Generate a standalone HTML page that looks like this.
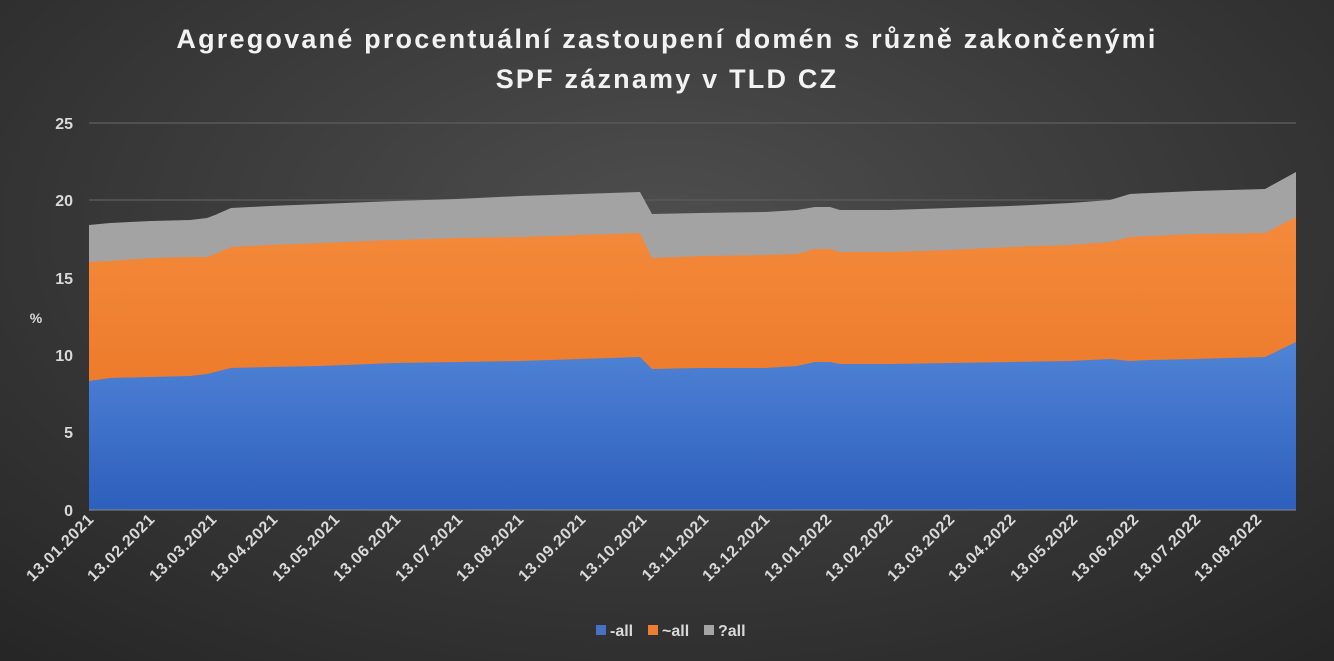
<!DOCTYPE html><html><head><meta charset="utf-8"><style>
body{margin:0;width:1334px;height:661px;overflow:hidden;background:radial-gradient(ellipse 75% 85% at 50% 35%,#4e4e4e 0%,#3a3a3a 50%,#262626 100%);font-family:"Liberation Sans",sans-serif}
</style></head><body>
<svg width="1334" height="661" xmlns="http://www.w3.org/2000/svg" style="position:absolute;left:0;top:0">
<defs>
<linearGradient id="b" x1="0" y1="0" x2="0" y2="1"><stop offset="0" stop-color="#5084d6"/><stop offset="1" stop-color="#2d5fbc"/></linearGradient>
<linearGradient id="o" x1="0" y1="0" x2="0" y2="1"><stop offset="0" stop-color="#f48a3c"/><stop offset="1" stop-color="#e8701f"/></linearGradient>
</defs>
<g font-weight="bold" fill="#f2f2f2" font-size="27" text-anchor="middle" letter-spacing="2.2">
<text x="667" y="48">Agregované procentuální zastoupení domén s různě zakončenými</text>
<text x="667" y="88">SPF záznamy v TLD CZ</text>
</g>
<g stroke="#595959" stroke-width="1.5"><line x1="89" y1="123" x2="1296" y2="123"/><line x1="89" y1="200" x2="1296" y2="200"/><line x1="89" y1="278" x2="1296" y2="278"/></g>
<g font-size="16" font-weight="bold" fill="#d9d9d9" text-anchor="end">
<text x="73" y="129">25</text><text x="73" y="206">20</text><text x="73" y="284">15</text><text x="73" y="361">10</text><text x="73" y="438">5</text><text x="73" y="516">0</text></g>
<text x="36" y="323" font-size="14" font-weight="bold" fill="#d9d9d9" text-anchor="middle">%</text>
<polygon fill="#a3a3a3" points="89,510 89,225 110,223 151,221 190,220 207,218 215,215 231,208 270,206 320,204 395,201 457,199 520,196 580,194 640,192 652,214 700,213 765,212 797,210 815,207 830,207 840,210 890,210 950,208 1010,206 1070,203 1110,200 1130,194 1150,193 1195,191 1265,189 1296,172 1296,510"/>
<polygon fill="url(#o)" points="89,510 89,262 110,261 151,258 190,257 207,257 215,254 231,247 270,245 320,243 395,240 457,238 520,237 580,235 640,233 652,258 700,256 765,255 797,254 815,249 830,249 840,252 890,252 950,250 1010,247 1070,245 1110,242 1130,237 1150,236 1195,234 1265,233 1296,217 1296,510"/>
<polygon fill="url(#b)" points="89,510 89,381 110,378 151,377 190,376 207,374 215,372 231,368 270,367 320,366 395,363 457,362 520,361 580,359 640,357 652,369 700,368 765,368 797,366 815,362 830,362 840,364 890,364 950,363 1010,362 1070,361 1110,359 1130,361 1150,360 1195,359 1265,357 1296,342 1296,510"/>
<line x1="89" y1="510" x2="1296" y2="510" stroke="#8a8a8a" stroke-width="1"/>
<g font-size="16" font-weight="bold" fill="#d9d9d9" text-anchor="end" letter-spacing="0.8">
<text transform="translate(95,520) rotate(-45)">13.01.2021</text>
<text transform="translate(156,520) rotate(-45)">13.02.2021</text>
<text transform="translate(218,520) rotate(-45)">13.03.2021</text>
<text transform="translate(279,520) rotate(-45)">13.04.2021</text>
<text transform="translate(341,520) rotate(-45)">13.05.2021</text>
<text transform="translate(402,520) rotate(-45)">13.06.2021</text>
<text transform="translate(464,520) rotate(-45)">13.07.2021</text>
<text transform="translate(525,520) rotate(-45)">13.08.2021</text>
<text transform="translate(587,520) rotate(-45)">13.09.2021</text>
<text transform="translate(648,520) rotate(-45)">13.10.2021</text>
<text transform="translate(710,520) rotate(-45)">13.11.2021</text>
<text transform="translate(771,520) rotate(-45)">13.12.2021</text>
<text transform="translate(833,520) rotate(-45)">13.01.2022</text>
<text transform="translate(894,520) rotate(-45)">13.02.2022</text>
<text transform="translate(956,520) rotate(-45)">13.03.2022</text>
<text transform="translate(1017,520) rotate(-45)">13.04.2022</text>
<text transform="translate(1079,520) rotate(-45)">13.05.2022</text>
<text transform="translate(1140,520) rotate(-45)">13.06.2022</text>
<text transform="translate(1202,520) rotate(-45)">13.07.2022</text>
<text transform="translate(1263,520) rotate(-45)">13.08.2022</text>
</g>
<g font-size="16" font-weight="bold" fill="#d9d9d9">
<rect x="596" y="625" width="10" height="10" fill="#4472c4"/><text x="610" y="636">-all</text>
<rect x="648" y="625" width="10" height="10" fill="#ed7d31"/><text x="662" y="636">~all</text>
<rect x="704" y="625" width="10" height="10" fill="#a5a5a5"/><text x="718" y="636">?all</text>
</g>
</svg>
</body></html>
